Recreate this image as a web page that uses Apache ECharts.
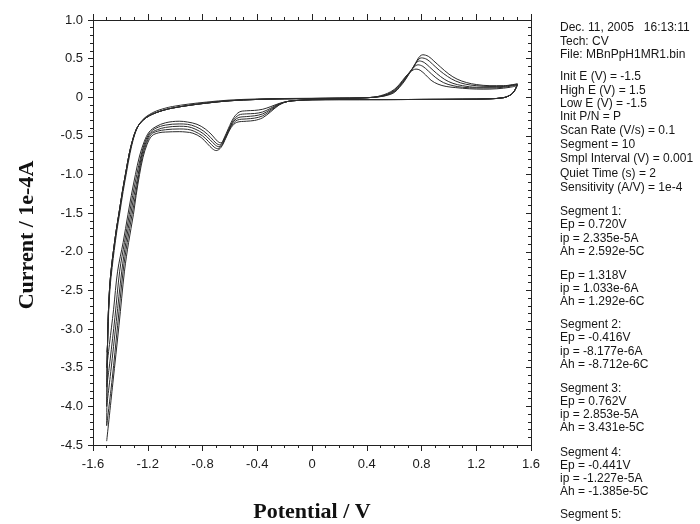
<!DOCTYPE html>
<html>
<head>
<meta charset="utf-8">
<script src="https://cdn.jsdelivr.net/npm/echarts@6/dist/echarts.min.js"></script>
<style>
html,body{margin:0;padding:0;background:#fff;}
#chart{width:700px;height:524px;}
</style>
</head>
<body>
<div id="chart"></div>
<script>
// ---------------- data ----------------
const xTickLabels = ['-1.6','-1.2','-0.8','-0.4','0','0.4','0.8','1.2','1.6'];
const yTickLabels = ['-4.5','-4.0','-3.5','-3.0','-2.5','-2.0','-1.5','-1.0','-0.5','0','0.5','1.0'];

// current at -1.5 V where each anodic sweep starts (1e-4 A)
const startCurrent = [-3.3, -3.5, -3.75, -4.0, -4.25];

// anodic (positive-going) branch from the negative end, first cycle
const outerFirst = [[-1.494,-3.2],[-1.486,-2.8],[-1.475,-2.45],[-1.46,-2.2],[-1.445,-1.98],[-1.425,-1.72],[-1.405,-1.5],[-1.38,-1.22],[-1.355,-0.97],[-1.33,-0.73],[-1.305,-0.54],[-1.28,-0.41],[-1.255,-0.33],[-1.225,-0.27],[-1.185,-0.22],[-1.14,-0.18],[-1.08,-0.145],[-1.02,-0.12],[-0.9,-0.088],[-0.77,-0.062],[-0.6,-0.036],[-0.4,-0.022],[-0.2,-0.016],[0,-0.013],[0.2,-0.01],[0.35,-0.007]];
// anodic branch, later cycles
const outerLater = [[-1.494,-3.2],[-1.488,-2.8],[-1.478,-2.45],[-1.465,-2.2],[-1.45,-1.98],[-1.43,-1.72],[-1.41,-1.5],[-1.385,-1.22],[-1.36,-0.97],[-1.335,-0.73],[-1.31,-0.55],[-1.285,-0.42],[-1.26,-0.345],[-1.23,-0.29],[-1.19,-0.24],[-1.14,-0.2],[-1.08,-0.165],[-1.02,-0.14],[-0.9,-0.105],[-0.77,-0.075],[-0.6,-0.045],[-0.4,-0.028],[-0.2,-0.02],[0,-0.016],[0.2,-0.013],[0.35,-0.01]];

// oxidation peak region, one array per cycle
const oxCycle1 = [[0.45,0.0],[0.5,0.02],[0.55,0.05],[0.6,0.1],[0.64,0.17],[0.68,0.26],[0.72,0.33],[0.76,0.365],[0.79,0.35],[0.83,0.29],[0.87,0.22],[0.92,0.17],[0.98,0.14],[1.05,0.125],[1.15,0.11],[1.25,0.105],[1.35,0.11],[1.45,0.13],[1.5,0.15]];
const oxCycle2 = [[0.45,0.0],[0.5,0.015],[0.55,0.04],[0.6,0.09],[0.64,0.16],[0.68,0.25],[0.72,0.34],[0.775,0.42],[0.81,0.40],[0.85,0.34],[0.9,0.26],[0.96,0.19],[1.03,0.15],[1.1,0.13],[1.2,0.12],[1.3,0.12],[1.4,0.13],[1.5,0.16]];
const oxCycle3 = [[0.45,0.0],[0.5,0.012],[0.55,0.035],[0.6,0.08],[0.64,0.15],[0.68,0.24],[0.72,0.34],[0.785,0.47],[0.82,0.45],[0.86,0.39],[0.91,0.31],[0.97,0.23],[1.03,0.18],[1.1,0.15],[1.2,0.13],[1.3,0.13],[1.4,0.14],[1.5,0.165]];
const oxCycle4 = [[0.45,0.0],[0.5,0.01],[0.55,0.03],[0.6,0.07],[0.64,0.14],[0.68,0.23],[0.73,0.36],[0.80,0.51],[0.84,0.49],[0.88,0.43],[0.93,0.35],[0.99,0.27],[1.05,0.21],[1.12,0.17],[1.2,0.15],[1.3,0.14],[1.4,0.145],[1.5,0.17]];
const oxCycle5 = [[0.45,0.0],[0.5,0.008],[0.55,0.025],[0.6,0.06],[0.64,0.13],[0.68,0.22],[0.73,0.36],[0.81,0.55],[0.85,0.53],[0.89,0.47],[0.94,0.39],[1.0,0.30],[1.06,0.235],[1.13,0.19],[1.2,0.165],[1.3,0.15],[1.4,0.15],[1.5,0.175]];

// cathodic (negative-going) return from +1.5 V, common part
const returnFlat = [[1.49,0.12],[1.47,0.06],[1.44,0.02],[1.4,-0.005],[1.3,-0.02],[1.1,-0.025],[0.8,-0.028],[0.5,-0.03],[0.2,-0.03],[0,-0.032],[-0.1,-0.04],[-0.18,-0.055]];

// reduction shoulder and peak, one array per cycle
const redCycle1 = [[-0.24,-0.08],[-0.30,-0.12],[-0.36,-0.155],[-0.42,-0.17],[-0.48,-0.175],[-0.53,-0.19],[-0.57,-0.26],[-0.61,-0.40],[-0.645,-0.54],[-0.665,-0.59],[-0.69,-0.57],[-0.73,-0.49],[-0.78,-0.41],[-0.84,-0.35],[-0.91,-0.32],[-0.97,-0.31]];
const redCycle2 = [[-0.24,-0.085],[-0.30,-0.14],[-0.36,-0.19],[-0.42,-0.21],[-0.48,-0.215],[-0.535,-0.23],[-0.575,-0.30],[-0.615,-0.44],[-0.65,-0.57],[-0.675,-0.615],[-0.70,-0.595],[-0.74,-0.52],[-0.79,-0.44],[-0.85,-0.38],[-0.91,-0.35],[-0.97,-0.345]];
const redCycle3 = [[-0.24,-0.09],[-0.30,-0.155],[-0.36,-0.215],[-0.42,-0.24],[-0.48,-0.25],[-0.54,-0.265],[-0.58,-0.33],[-0.62,-0.47],[-0.655,-0.60],[-0.68,-0.64],[-0.705,-0.62],[-0.745,-0.55],[-0.795,-0.47],[-0.855,-0.41],[-0.91,-0.38],[-0.97,-0.375]];
const redCycle4 = [[-0.24,-0.095],[-0.30,-0.17],[-0.36,-0.24],[-0.42,-0.27],[-0.48,-0.28],[-0.545,-0.295],[-0.585,-0.36],[-0.625,-0.50],[-0.66,-0.625],[-0.69,-0.665],[-0.715,-0.645],[-0.755,-0.575],[-0.80,-0.50],[-0.86,-0.44],[-0.91,-0.415],[-0.97,-0.41]];
const redCycle5 = [[-0.24,-0.10],[-0.30,-0.185],[-0.36,-0.265],[-0.42,-0.30],[-0.48,-0.31],[-0.55,-0.325],[-0.59,-0.39],[-0.63,-0.53],[-0.665,-0.65],[-0.70,-0.69],[-0.725,-0.67],[-0.765,-0.60],[-0.81,-0.52],[-0.87,-0.465],[-0.92,-0.45],[-0.97,-0.445]];

// steep cathodic branch down to -1.5 V, one array per cycle
const innerCycle1 = [[-1.07,-0.33],[-1.14,-0.38],[-1.19,-0.45],[-1.225,-0.57],[-1.26,-0.76],[-1.29,-1.0],[-1.32,-1.27],[-1.345,-1.52],[-1.38,-1.88],[-1.42,-2.25],[-1.45,-2.75],[-1.48,-3.2],[-1.5,-3.5]];
const innerCycle2 = [[-1.07,-0.36],[-1.14,-0.40],[-1.185,-0.46],[-1.22,-0.58],[-1.25,-0.76],[-1.28,-1.0],[-1.31,-1.27],[-1.335,-1.52],[-1.37,-1.88],[-1.405,-2.25],[-1.44,-2.85],[-1.475,-3.4],[-1.5,-3.75]];
const innerCycle3 = [[-1.07,-0.39],[-1.13,-0.42],[-1.18,-0.47],[-1.215,-0.59],[-1.245,-0.76],[-1.27,-1.0],[-1.30,-1.27],[-1.325,-1.52],[-1.36,-1.88],[-1.39,-2.25],[-1.43,-2.9],[-1.47,-3.55],[-1.5,-4.0]];
const innerCycle4 = [[-1.07,-0.42],[-1.13,-0.44],[-1.175,-0.48],[-1.21,-0.60],[-1.24,-0.77],[-1.265,-1.0],[-1.29,-1.27],[-1.315,-1.52],[-1.35,-1.88],[-1.38,-2.25],[-1.42,-2.95],[-1.46,-3.65],[-1.5,-4.25]];
const innerCycle5 = [[-1.07,-0.45],[-1.12,-0.46],[-1.17,-0.50],[-1.205,-0.61],[-1.235,-0.78],[-1.26,-1.0],[-1.285,-1.27],[-1.305,-1.52],[-1.34,-1.88],[-1.37,-2.25],[-1.41,-2.95],[-1.455,-3.7],[-1.5,-4.45]];

// instrument report text
const infoLines = [
  'Dec. 11, 2005   16:13:11','Tech: CV','File: MBnPpH1MR1.bin',
  'Init E (V) = -1.5','High E (V) = 1.5','Low E (V) = -1.5','Init P/N = P',
  'Scan Rate (V/s) = 0.1','Segment = 10','Smpl Interval (V) = 0.001',
  'Quiet Time (s) = 2','Sensitivity (A/V) = 1e-4',
  'Segment 1:','Ep = 0.720V','ip = 2.335e-5A','Ah = 2.592e-5C',
  'Ep = 1.318V','ip = 1.033e-6A','Ah = 1.292e-6C',
  'Segment 2:','Ep = -0.416V','ip = -8.177e-6A','Ah = -8.712e-6C',
  'Segment 3:','Ep = 0.762V','ip = 2.853e-5A','Ah = 3.431e-5C',
  'Segment 4:','Ep = -0.441V','ip = -1.227e-5A','Ah = -1.385e-5C',
  'Segment 5:'
];
const xTitle = 'Potential / V';
const yTitle = 'Current / 1e-4A';

// ---------------- layout ----------------
const infoY = [28,42,55, 77,91,104,117,131,145,159,174,188, 212,225,239,252, 276,289,302, 325,338,352,365, 389,402,415,428, 453,466,479,492, 515];
const INFO_X = 560;

const outerSets = [outerFirst, outerLater, outerLater, outerLater, outerLater];
const oxSets = [oxCycle1, oxCycle2, oxCycle3, oxCycle4, oxCycle5];
const redSets = [redCycle1, redCycle2, redCycle3, redCycle4, redCycle5];
const innerSets = [innerCycle1, innerCycle2, innerCycle3, innerCycle4, innerCycle5];

const series = startCurrent.map((s, k) => ({
  type: 'line',
  xAxisIndex: 0, yAxisIndex: 0,
  showSymbol: false, symbol: 'none',
  smooth: 0.35,
  animation: false,
  silent: true,
  lineStyle: { color: '#2b2b2b', width: 1 },
  data: [[-1.5, s]].concat(outerSets[k], oxSets[k], returnFlat, redSets[k], innerSets[k])
}));

const lab = (arr) => (v, i) => arr[i] !== undefined ? arr[i] : String(v);
const axisCol = '#222';
const tickFont = { fontFamily: '"Liberation Sans", Arial, sans-serif', fontSize: 13, color: '#1a1a1a' };

const chart = echarts.init(document.getElementById('chart'), null, { renderer: 'canvas' });
chart.setOption({
  backgroundColor: '#fff',
  animation: false,
  grid: { left: 93, right: 169, top: 20, bottom: 79, containLabel: false },
  xAxis: [{
    type: 'value', position: 'bottom', min: -1.6, max: 1.6, interval: 0.4,
    axisLine: { show: true, onZero: false, lineStyle: { color: axisCol, width: 1 } },
    axisTick: { show: true, length: 6, lineStyle: { color: axisCol } },
    minorTick: { show: true, splitNumber: 4, length: 3, lineStyle: { color: axisCol } },
    splitLine: { show: false },
    axisLabel: Object.assign({ margin: 13, formatter: lab(xTickLabels) }, tickFont)
  }, {
    type: 'value', position: 'top', min: -1.6, max: 1.6, interval: 0.4,
    axisLine: { show: true, onZero: false, lineStyle: { color: axisCol, width: 1 } },
    axisTick: { show: true, length: 6, lineStyle: { color: axisCol } },
    minorTick: { show: true, splitNumber: 4, length: 3, lineStyle: { color: axisCol } },
    splitLine: { show: false },
    axisLabel: { show: false }
  }],
  yAxis: [{
    type: 'value', position: 'left', min: -4.5, max: 1.0, interval: 0.5,
    axisLine: { show: true, onZero: false, lineStyle: { color: axisCol, width: 1 } },
    axisTick: { show: true, length: 5, lineStyle: { color: axisCol } },
    minorTick: { show: true, splitNumber: 5, length: 3, lineStyle: { color: axisCol } },
    splitLine: { show: false },
    axisLabel: Object.assign({ margin: 10, formatter: lab(yTickLabels) }, tickFont)
  }, {
    type: 'value', position: 'right', min: -4.5, max: 1.0, interval: 0.5,
    axisLine: { show: true, onZero: false, lineStyle: { color: axisCol, width: 1 } },
    axisTick: { show: true, inside: true, length: 5, lineStyle: { color: axisCol } },
    minorTick: { show: true, splitNumber: 5, length: 3, lineStyle: { color: axisCol } },
    splitLine: { show: false },
    axisLabel: { show: false }
  }],
  series: series,
  graphic: infoLines.map((t, i) => ({
    type: 'text', x: INFO_X, y: infoY[i], silent: true,
    style: { text: t, font: '12px "Liberation Sans", Arial, sans-serif', fill: '#161616', verticalAlign: 'middle', align: 'left' }
  })).concat([
    { type: 'text', x: 312, y: 512, silent: true,
      style: { text: xTitle, font: 'bold 22px "Liberation Serif", "Times New Roman", serif', fill: '#111', align: 'center', verticalAlign: 'middle' } },
    { type: 'text', x: 27, y: 235, rotation: Math.PI / 2, silent: true,
      style: { text: yTitle, font: 'bold 22px "Liberation Serif", "Times New Roman", serif', fill: '#111', align: 'center', verticalAlign: 'middle' } }
  ])
});
</script>
</body>
</html>
